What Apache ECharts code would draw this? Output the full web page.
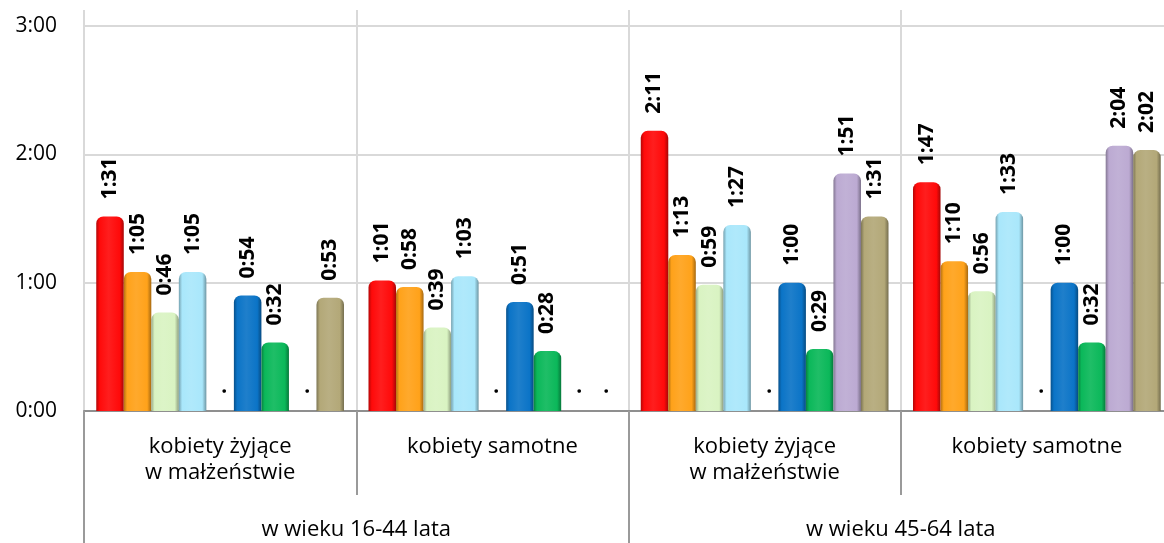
<!DOCTYPE html>
<html>
<head>
<meta charset="utf-8">
<script src="https://cdn.jsdelivr.net/npm/echarts@6/dist/echarts.min.js"></script>
<style>
  html, body { margin: 0; padding: 0; background: #fff; }
  #chart { width: 1164px; height: 543px; }
</style>
</head>
<body>
<div id="chart"></div>
<script>
  // czas w minutach, null = brak danych (".")
  const categories = ['kobiety żyjące\nw małżeństwie', 'kobiety samotne', 'kobiety żyjące\nw małżeństwie', 'kobiety samotne']
  const ageGroups = ['w wieku 16-44 lata', 'w wieku 45-64 lata']
  const yTicks = [0, 60, 120, 180]
  const red = [91, 61, 131, 107]
  const orange = [65, 58, 73, 70]
  const lightGreen = [46, 39, 59, 56]
  const lightBlue = [65, 63, 87, 93]
  const fifth = [null, null, null, null]
  const blue = [54, 51, 60, 60]
  const green = [32, 28, 29, 32]
  const purple = [null, null, 111, 124]
  const olive = [53, null, 91, 122]

  const seriesData = [red, orange, lightGreen, lightBlue, fifth, blue, green, purple, olive]
  const colors = ['#ff0a0a', '#ffa21a', '#d9f3c2', '#a9e7fb', '#888888', '#0b74c7', '#0bb85a', '#bcaad2', '#b3a878']

  function fmt (m) {
    let h = Math.floor(m / 60)
    let mm = Math.round(m % 60)
    return h + ':' + (mm < 10 ? '0' + mm : mm)
  }

  function shade (hex, f) {
    let n = parseInt(hex.slice(1), 16)
    let r = (n >> 16) & 255
    let g = (n >> 8) & 255
    let b = n & 255
    let t = f < 0 ? 0 : 255
    let p = Math.abs(f)
    r = Math.round((t - r) * p + r)
    g = Math.round((t - g) * p + g)
    b = Math.round((t - b) * p + b)
    return 'rgb(' + r + ',' + g + ',' + b + ')'
  }

  function cylinder (c) {
    return new echarts.graphic.LinearGradient(0, 0, 1, 0, [
      {offset: 0, color: shade(c, -0.3)},
      {offset: 0.12, color: c},
      {offset: 0.45, color: shade(c, 0.08)},
      {offset: 0.85, color: c},
      {offset: 1, color: shade(c, -0.35)}
    ])
  }

  const labelFont = {fontFamily: 'Open Sans', color: '#000'}

  let series = seriesData.map(function (arr, i) {
    return {
      name: 's' + (i + 1),
      type: 'bar',
      xAxisIndex: 0,
      barGap: '0%',
      barCategoryGap: '9%',
      itemStyle: {color: cylinder(colors[i]), borderRadius: [7, 7, 0, 0]},
      label: {
        show: true,
        position: 'top',
        rotate: 90,
        align: 'left',
        verticalAlign: 'middle',
        distance: 17,
        fontFamily: 'Open Sans',
        fontWeight: 'bold',
        fontSize: 21,
        color: '#000',
        formatter: function (p) { return p.data.missing ? '.' : fmt(p.value) }
      },
      data: arr.map(function (v) {
        return v === null ? {value: 0, missing: true} : {value: v}
      })
    }
  })

  let chart = echarts.init(document.getElementById('chart'))
  chart.setOption({
    animation: false,
    backgroundColor: '#fff',
    grid: {left: 84, width: 1089, top: 10, bottom: 132, outerBoundsMode: 'none', containLabel: false},
    xAxis: [{
      type: 'category',
      position: 'bottom',
      data: categories,
      axisLine: {show: true, lineStyle: {color: '#8f8f8f', width: 2}},
      axisTick: {show: true, interval: 0, length: 84, lineStyle: {color: '#9a9a9a', width: 2}},
      axisLabel: Object.assign({interval: 0, fontSize: 22, lineHeight: 26, margin: 23, verticalAlign: 'top'}, labelFont),
      splitLine: {show: true, interval: 0, lineStyle: {color: '#d9d9d9', width: 2}}
    }, {
      type: 'category',
      position: 'bottom',
      data: ageGroups,
      axisLine: {show: false},
      axisTick: {show: true, interval: 0, length: 132, lineStyle: {color: '#9a9a9a', width: 2}},
      axisLabel: Object.assign({interval: 0, fontSize: 22, margin: 108, verticalAlign: 'top'}, labelFont),
      splitLine: {show: false}
    }],
    yAxis: {
      type: 'value',
      min: yTicks[0],
      max: 187.5,
      interval: yTicks[1] - yTicks[0],
      axisLine: {show: false},
      axisTick: {show: false},
      axisLabel: Object.assign({fontSize: 21, margin: 27, showMaxLabel: false, formatter: function (v) { return yTicks.indexOf(v) >= 0 ? fmt(v) : '' }}, labelFont),
      splitLine: {show: true, showMaxLine: false, lineStyle: {color: '#d9d9d9', width: 2}}
    },
    series: series
  })
</script>
</body>
</html>
